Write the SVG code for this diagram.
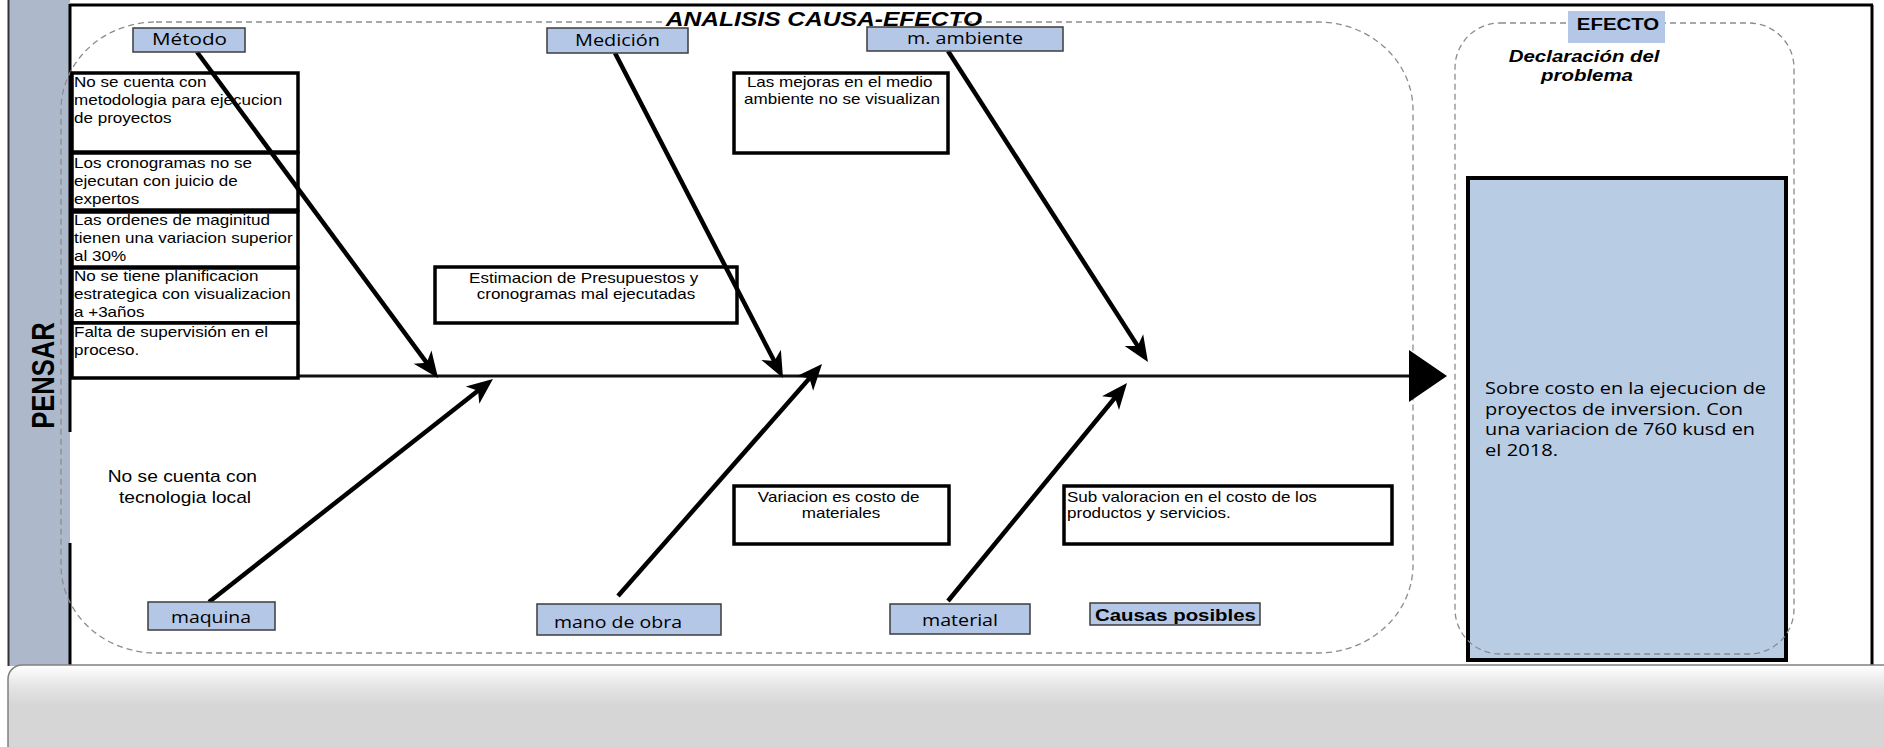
<svg xmlns="http://www.w3.org/2000/svg" width="1884" height="747" viewBox="0 0 1884 747">
  <defs>
    <style>
      .arial { font-family: "Liberation Sans", Arial, sans-serif; fill: #000; }
      .cal { font-family: "Open Sans", "Liberation Sans", sans-serif; fill: #000; }
      .cause { font-size: 14.2px; }
      .cat { fill: #b4c7e7; stroke: #3c3c3c; stroke-width: 1.5; }
      .box { fill: #fff; stroke: #000; stroke-width: 3.5; }
      .dash { fill: none; stroke: #8c8c8c; stroke-width: 1.3; stroke-dasharray: 6 4; }
      .bone { stroke: #000; stroke-width: 4.5; fill: none; marker-end: url(#barb); }
    </style>
    <marker id="barb" markerUnits="userSpaceOnUse" viewBox="-22 -13 34 26" refX="0" refY="0" markerWidth="34" markerHeight="26" orient="auto">
      <path d="M9,0 L-17,-11 L-10,0 L-17,11 Z" fill="#000"/>
    </marker>
    <linearGradient id="panel" x1="0" y1="0" x2="0" y2="1">
      <stop offset="0" stop-color="#ffffff"/>
      <stop offset="0.22" stop-color="#e4e4e4"/>
      <stop offset="0.4" stop-color="#d6d6d6"/>
      <stop offset="1" stop-color="#d6d6d6"/>
    </linearGradient>
  </defs>

  <rect width="1884" height="747" fill="#fff"/>

  <!-- side band -->
  <g id="band">
    <rect x="9" y="0" width="61" height="666" fill="#adb9cb"/>
    <line x1="8.5" y1="0" x2="8.5" y2="666" stroke="#333" stroke-width="2"/>
    <text class="arial" font-weight="bold" font-size="25.6" text-anchor="middle" transform="translate(54 375.5) scale(1.2 1) rotate(-90)">PENSAR</text>
  </g>

  <!-- outer frame -->
  <g id="frame" stroke="#000" stroke-width="3" fill="none">
    <line x1="70" y1="5" x2="1873" y2="5"/>
    <line x1="1872" y1="5" x2="1872" y2="665"/>
    <line x1="70" y1="4" x2="70" y2="432"/>
    <line x1="70" y1="543" x2="70" y2="666"/>
  </g>

  <!-- dashed zones -->
  <g id="zones">
    <rect class="dash" x="61" y="22" width="1352" height="631" rx="95" ry="88"/>
    <rect id="effect-box" x="1468" y="178" width="318" height="482" fill="#b8cce4" stroke="#000" stroke-width="4"/>
    <rect class="dash" x="1455" y="23" width="339" height="631" rx="45" ry="45"/>
  </g>

  <!-- title -->
  <g id="title">
    <rect x="662" y="10" width="292" height="20" fill="#fff"/>
    <text class="arial" font-weight="bold" font-style="italic" font-size="20.5" text-anchor="middle" transform="translate(824 0) scale(1.2 1)" y="26.5">ANALISIS CAUSA-EFECTO</text>
  </g>

  <!-- spine -->
  <g id="connectors">
    <line x1="125" y1="376" x2="1410" y2="376" stroke="#111" stroke-width="3"/>
    <polygon points="1409,350 1447,376 1409,402" fill="#000"/>
  </g>

  <!-- cause boxes on the Método side -->
  <g id="metodo-causes">
    <rect class="box" x="72" y="73" width="226" height="79"/>
    <rect class="box" x="72" y="153" width="226" height="57"/>
    <rect class="box" x="72" y="212" width="226" height="55"/>
    <rect class="box" x="72" y="268" width="226" height="55"/>
    <rect class="box" x="72" y="323" width="226" height="55"/>
    <text class="arial cause" transform="translate(74 0) scale(1.2 1)">
      <tspan x="0" y="87">No se cuenta con</tspan>
      <tspan x="0" y="105">metodologia para ejecucion</tspan>
      <tspan x="0" y="123">de proyectos</tspan>
      <tspan x="0" y="168">Los cronogramas no se</tspan>
      <tspan x="0" y="186">ejecutan con juicio de</tspan>
      <tspan x="0" y="204">expertos</tspan>
      <tspan x="0" y="225">Las ordenes de maginitud</tspan>
      <tspan x="0" y="243">tienen una variacion superior</tspan>
      <tspan x="0" y="261">al 30%</tspan>
      <tspan x="0" y="281">No se tiene planificacion</tspan>
      <tspan x="0" y="299">estrategica con visualizacion</tspan>
      <tspan x="0" y="317">a +3años</tspan>
      <tspan x="0" y="337">Falta de supervisión en el</tspan>
      <tspan x="0" y="355">proceso.</tspan>
    </text>
  </g>

  <g id="estimacion">
    <rect class="box" x="435" y="267" width="302" height="56"/>
    <text class="arial cause" text-anchor="middle" transform="translate(586 0) scale(1.2 1)">
      <tspan x="0" y="283">Estimacion de Presupuestos y</tspan>
      <tspan x="0" y="299">cronogramas mal ejecutadas</tspan>
    </text>
  </g>

  <g id="mejoras">
    <rect class="box" x="734" y="73" width="214" height="80"/>
    <text class="arial cause" text-anchor="middle" transform="translate(842 0) scale(1.2 1)">
      <tspan x="0" y="87">Las mejoras en el medio</tspan>
      <tspan x="0" y="104">ambiente no se visualizan</tspan>
    </text>
  </g>

  <g id="variacion">
    <rect class="box" x="734" y="486" width="215" height="58"/>
    <text class="arial cause" text-anchor="middle" transform="translate(841 0) scale(1.2 1)">
      <tspan x="0" y="502">Variacion es costo de</tspan>
      <tspan x="0" y="518">materiales</tspan>
    </text>
  </g>

  <g id="subvaloracion">
    <rect class="box" x="1064" y="486" width="328" height="58"/>
    <text class="arial cause" transform="translate(1067 0) scale(1.2 1)">
      <tspan x="0" y="502">Sub valoracion en el costo de los</tspan>
      <tspan x="0" y="518">productos y servicios.</tspan>
    </text>
  </g>

  <g id="tecnologia">
    <text class="arial" font-size="16" text-anchor="middle" transform="translate(185 0) scale(1.2 1)">
      <tspan x="0" y="482">No se cuenta con</tspan>
      <tspan x="0" y="503">tecnologia local</tspan>
    </text>
  </g>

  <!-- bones -->
  <g id="bones">
    <line class="bone" x1="197" y1="52" x2="432.7" y2="370.8"/>
    <line class="bone" x1="615" y1="53" x2="778.9" y2="370"/>
    <line class="bone" x1="948" y1="51" x2="1143.1" y2="354.4"/>
    <line class="bone" x1="209" y1="602" x2="485.9" y2="384.6"/>
    <line class="bone" x1="618" y1="596" x2="816.1" y2="370.8"/>
    <line class="bone" x1="948" y1="601" x2="1121.3" y2="390"/>
  </g>

  <!-- category labels -->
  <g id="metodo">
    <rect class="cat" x="133" y="28" width="112" height="24"/>
    <text class="cal" font-size="16" text-anchor="middle" x="189.5" y="45" textLength="75" lengthAdjust="spacingAndGlyphs">Método</text>
  </g>
  <g id="medicion">
    <rect class="cat" x="547" y="28" width="141" height="25"/>
    <text class="cal" font-size="16" text-anchor="middle" x="617.5" y="46" textLength="85" lengthAdjust="spacingAndGlyphs">Medición</text>
  </g>
  <g id="ambiente">
    <rect class="cat" x="867" y="27" width="196" height="24"/>
    <text class="cal" font-size="16" text-anchor="middle" x="965" y="44" textLength="116" lengthAdjust="spacingAndGlyphs">m. ambiente</text>
  </g>
  <g id="maquina">
    <rect class="cat" x="148" y="602" width="127" height="28"/>
    <text class="cal" font-size="16" text-anchor="middle" x="211" y="623" textLength="80" lengthAdjust="spacingAndGlyphs">maquina</text>
  </g>
  <g id="mano-de-obra">
    <rect class="cat" x="537" y="604" width="184" height="31"/>
    <text class="cal" font-size="16" text-anchor="middle" x="618" y="628" textLength="128" lengthAdjust="spacingAndGlyphs">mano de obra</text>
  </g>
  <g id="material">
    <rect class="cat" x="890" y="604" width="140" height="30"/>
    <text class="cal" font-size="16" text-anchor="middle" x="960" y="626" textLength="76" lengthAdjust="spacingAndGlyphs">material</text>
  </g>
  <g id="causas-posibles">
    <rect class="cat" x="1090" y="603" width="170" height="22"/>
    <text class="arial" font-weight="bold" font-size="17" transform="translate(1095 0) scale(1.2 1)" x="0" y="621">Causas posibles</text>
  </g>

  <!-- effect side -->
  <g id="efecto">
    <rect x="1568" y="11" width="97" height="32" fill="#b4c7e7"/>
    <text class="arial" font-weight="bold" font-size="17" text-anchor="middle" transform="translate(1618 0) scale(1.2 1)" x="0" y="30">EFECTO</text>
    <text class="arial" font-weight="bold" font-style="italic" font-size="17" text-anchor="middle" transform="translate(1587 0) scale(1.2 1)">
      <tspan x="0" y="62">Declaración del</tspan>
      <tspan x="0" y="81">problema</tspan>
    </text>
  </g>
  <g id="problema">
    <text class="cal" font-size="16.5">
      <tspan x="1485" y="394" textLength="281" lengthAdjust="spacingAndGlyphs">Sobre costo en la ejecucion de</tspan>
      <tspan x="1485" y="414.5" textLength="258" lengthAdjust="spacingAndGlyphs">proyectos de inversion. Con</tspan>
      <tspan x="1485" y="435" textLength="270" lengthAdjust="spacingAndGlyphs">una variacion de 760 kusd en</tspan>
      <tspan x="1485" y="455.5" textLength="73" lengthAdjust="spacingAndGlyphs">el 2018.</tspan>
    </text>
  </g>

  <!-- bottom panel -->
  <g id="footer">
    <rect x="8" y="665" width="1890" height="100" rx="14" ry="14" fill="url(#panel)" stroke="#808080" stroke-width="1.5"/>
  </g>
</svg>
